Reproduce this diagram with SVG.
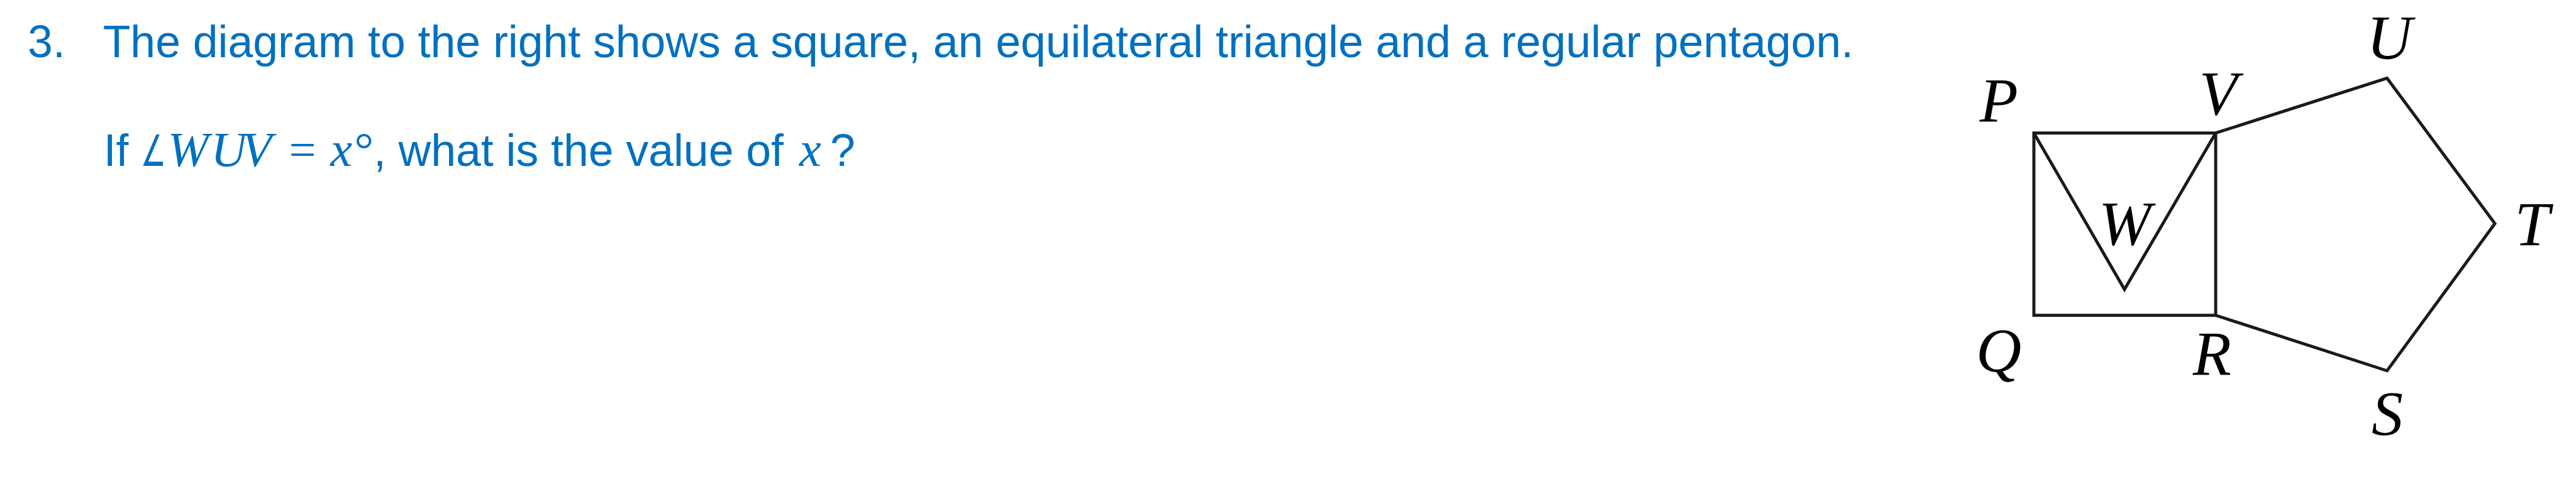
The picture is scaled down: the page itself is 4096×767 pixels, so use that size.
<svg xmlns="http://www.w3.org/2000/svg" width="4096" height="767" viewBox="0 0 4096 767">
<style>
.t{font-family:"Liberation Sans",Arial,sans-serif;font-size:73px;fill:#0070C0}
.m{font-family:"Liberation Serif","Times New Roman",serif;font-size:78px;fill:#0070C0}
.mi{font-family:"Liberation Serif","Times New Roman",serif;font-size:80px;font-style:italic;fill:#0070C0}
.lbl{font-family:"Liberation Serif","Times New Roman",serif;font-size:102px;font-style:italic;fill:#000}
.ln{fill:none;stroke:#1a1a1a;stroke-width:5;stroke-linejoin:miter}
</style>
<rect width="4096" height="767" fill="#fff"/>
<g transform="scale(0.98)">
<g id="question">
<text class="t" x="45" y="93">3.</text>
<text class="t" x="167" y="93">The diagram to the right shows a square, an equilateral triangle and a regular pentagon.</text>
<text class="t" x="168" y="269">If</text>
<text transform="translate(228,269) scale(0.66,1)" style="font-family:'DejaVu Sans',sans-serif;font-size:70px;fill:#0070C0">∠</text>
<text class="mi" x="272" y="269">W</text>
<text class="mi" x="342" y="269">U</text>
<text class="mi" x="392" y="269">V</text>
<text class="m" x="469" y="269">=</text>
<text class="mi" x="536" y="269">x</text>
<text class="m" x="575" y="269">°</text>
<text class="t" x="606" y="269">, what is the value of</text>
<text class="mi" x="1297" y="269">x</text>
<text class="t" x="1347" y="269">?</text>
</g>
<g id="connectors">
<rect class="ln" x="3300" y="216" width="295" height="296"/>
<polyline class="ln" points="3300,216 3447,470 3595,216"/>
<polyline class="ln" points="3595,216 3873,127 4048,363 3873,602 3595,512"/>
</g>
<g id="node-P"><text class="lbl" x="3212" y="197">P</text></g>
<g id="node-V"><text class="lbl" x="3568" y="186">V</text></g>
<g id="node-U"><text class="lbl" x="3840" y="95">U</text></g>
<g id="node-W"><text class="lbl" x="3405" y="397">W</text></g>
<g id="node-T"><text class="lbl" x="4080" y="398">T</text></g>
<g id="node-Q"><text class="lbl" x="3206" y="603">Q</text></g>
<g id="node-R"><text class="lbl" x="3558" y="608">R</text></g>
<g id="node-S"><text class="lbl" x="3848" y="705">S</text></g>
</g>
</svg>
